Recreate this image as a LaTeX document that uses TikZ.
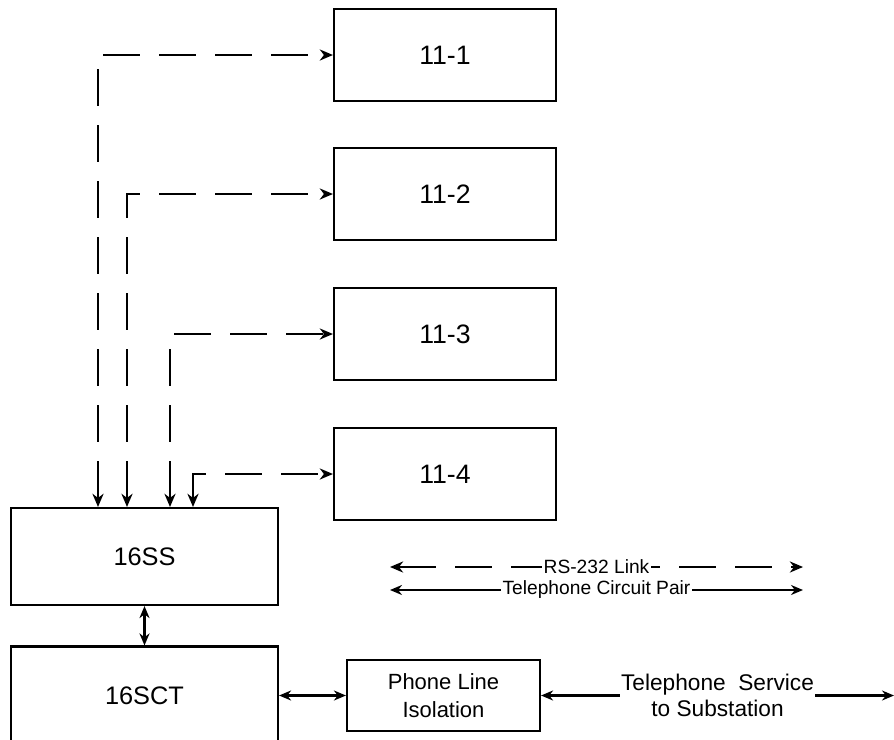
\documentclass[tikz,border=0pt]{standalone}
\usepackage{fontspec}
\setmainfont{Liberation Sans}
\usetikzlibrary{arrows.meta}

\begin{document}
\begin{tikzpicture}[x=0.75pt, y=-0.75pt]
		\tikzset{bx/.style={rectangle, draw=black, line width=1.6pt, inner sep=0pt, font=\fontsize{20}{22}\selectfont}};
		\tikzset{ln/.style={line width=1.6pt, {Stealth[length=9pt, width=7.5pt]}-{Stealth[length=9pt, width=7.5pt]}}};
		\tikzset{rs/.style={line width=1.6pt, dash pattern=on 28pt off 14pt,
			{Stealth[length=10pt, width=8.5pt, line width=0pt]}-{Stealth[length=10pt, width=8.5pt, line width=0pt]}}};
		\tikzset{lbl/.style={fill=white, inner xsep=1pt, inner ysep=0pt, font=\fontsize{14.4}{16}\selectfont}};

		\useasboundingbox (0,0) rectangle (894,740);

		\node[bx, minimum width=166.5pt, minimum height=69pt] (n1) at (445, 55) {11-1};
		\node[bx, minimum width=166.5pt, minimum height=69pt] (n2) at (445, 194) {11-2};
		\node[bx, minimum width=166.5pt, minimum height=69pt] (n3) at (445, 334) {11-3};
		\node[bx, minimum width=166.5pt, minimum height=69pt] (n4) at (445, 474) {11-4};
		\node[bx, minimum width=200.25pt, minimum height=72.75pt, font=\fontsize{19}{22}\selectfont] (ss) at (144.5, 556.5) {16SS};
		\node[bx, minimum width=200.25pt, minimum height=73.5pt, font=\fontsize{19}{22}\selectfont] (sct) at (144.5, 695.5) {16SCT};
		\node[bx, minimum width=144.75pt, minimum height=53.25pt, align=center,
			font=\fontsize{16.5}{21}\selectfont] (ph) at (443.5, 695.5) {Phone Line\\Isolation};

		% drop points of the serial links
		\coordinate (d1) at (98, 0);
		\coordinate (d2) at (127, 0);
		\coordinate (d3) at (170, 0);
		\coordinate (d4) at (193, 0);

		\draw[rs] (ss.north -| d1) |- (n1);
		\draw[rs] (ss.north -| d2) |- (n2);
		\draw[rs] (ss.north -| d3) |- (n3);
		\draw[rs] (ss.north -| d4) |- (n4);

		\draw[ln] (ss) to (sct);
		\draw[ln] (sct) to (ph);

		\coordinate (e) at (894, 695.5);
		\draw[ln] (ph) to node[lbl, align=center, font=\fontsize{17}{19}\selectfont]
			{Telephone\ \ Service\\to Substation} (e);

		% legend
		\coordinate (l1) at (390, 567);
		\coordinate (r1) at (803, 567);
		\coordinate (l2) at (390, 590);
		\coordinate (r2) at (803, 590);

		\draw[rs] (l1) to node[lbl] {RS-232 Link} (r1);
		\draw[ln] (l2) to node[lbl] {Telephone Circuit Pair} (r2);
	\end{tikzpicture}
\end{document}
